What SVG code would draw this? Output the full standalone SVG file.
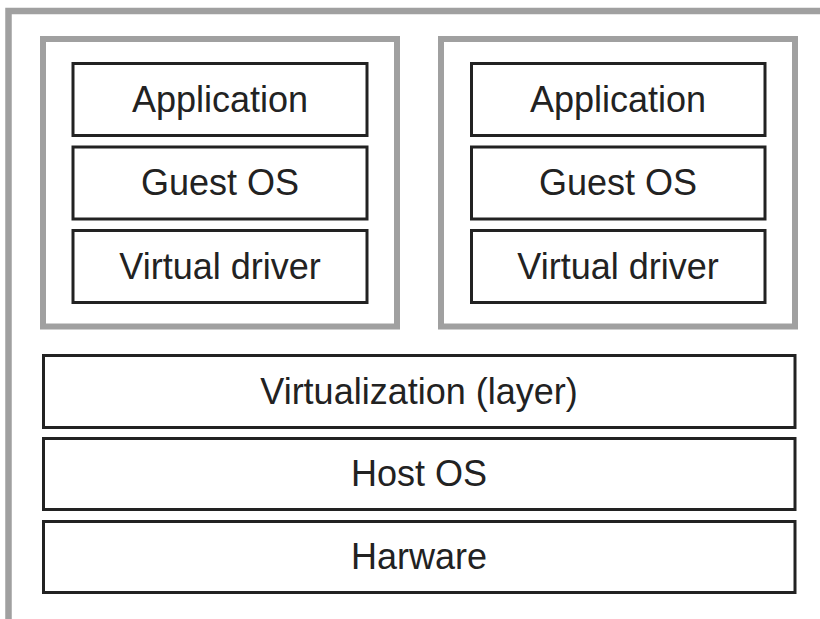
<svg xmlns="http://www.w3.org/2000/svg" width="820" height="619" viewBox="0 0 820 619">
<style>
.frame{fill:none;stroke:#a0a0a0;stroke-width:6.5}
.vm{fill:none;stroke:#a0a0a0;stroke-width:6}
.box{fill:#fff;stroke:#222;stroke-width:3}
.lbl{font-family:"Liberation Sans",Arial,sans-serif;font-size:36px;fill:#222;text-anchor:middle}
</style>
<rect width="820" height="619" fill="#fff"/>
<path class="frame" d="M8.5 619 V11 H820"/>
<g id="vm1">
<rect class="vm" x="43" y="39" width="354" height="287.5"/>
<g id="app1"><rect class="box" x="73" y="63.5" width="294" height="72"/><text class="lbl" x="220" y="111.5">Application</text></g>
<g id="guest1"><rect class="box" x="73" y="147" width="294" height="72"/><text class="lbl" x="220" y="195">Guest OS</text></g>
<g id="driver1"><rect class="box" x="73" y="230.5" width="294" height="72"/><text class="lbl" x="220" y="278.5">Virtual driver</text></g>
</g>
<g id="vm2">
<rect class="vm" x="441" y="39" width="354" height="287.5"/>
<g id="app2"><rect class="box" x="471.5" y="63.5" width="293.5" height="72"/><text class="lbl" x="618" y="111.5">Application</text></g>
<g id="guest2"><rect class="box" x="471.5" y="147" width="293.5" height="72"/><text class="lbl" x="618" y="195">Guest OS</text></g>
<g id="driver2"><rect class="box" x="471.5" y="230.5" width="293.5" height="72"/><text class="lbl" x="618" y="278.5">Virtual driver</text></g>
</g>
<g id="virtualization"><rect class="box" x="43.5" y="355.5" width="751.5" height="72"/><text class="lbl" x="419" y="403.5">Virtualization (layer)</text></g>
<g id="hostos"><rect class="box" x="43.5" y="438.5" width="751.5" height="71"/><text class="lbl" x="419" y="486">Host OS</text></g>
<g id="hardware"><rect class="box" x="43.5" y="521.5" width="751.5" height="71"/><text class="lbl" x="419" y="569">Harware</text></g>
<g id="connectors"></g>
</svg>
